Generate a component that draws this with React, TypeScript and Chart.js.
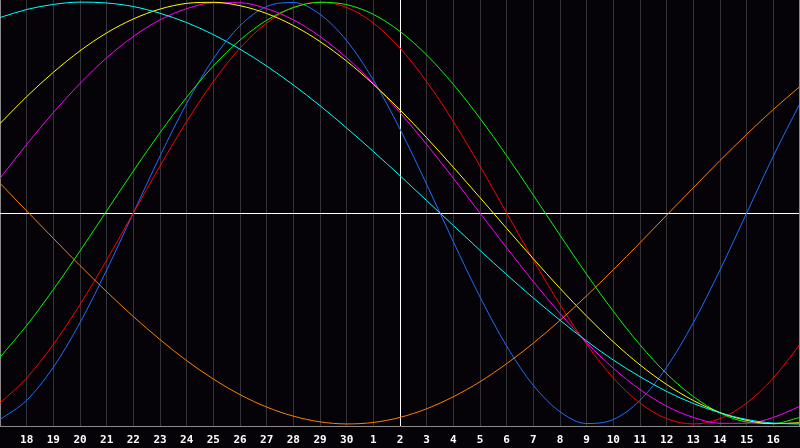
import React, { useEffect, useRef } from 'react';
import { Chart, registerables } from 'chart.js';

Chart.register(...registerables);

const dayLabels = ['17','18','19','20','21','22','23','24','25','26','27','28','29','30','1','2','3','4','5','6','7','8','9','10','11','12','13','14','15','16','17'];
const todayIndex = 15;

const blueSeries = [-97.9,-88.8,-73.1,-52.0,-27.0,0.0,27.0,52.0,73.1,88.8,97.9,99.8,94.2,81.7,63.1,39.8,13.6,-13.6,-39.8,-63.1,-81.7,-94.2,-99.8,-97.9,-88.8,-73.1,-52.0,-27.0,0.0,27.0,52.0];
const redSeries = [-90.1,-78.2,-62.3,-43.4,-22.3,0.0,22.3,43.4,62.3,78.2,90.1,97.5,100,97.5,90.1,78.2,62.3,43.4,22.3,0.0,-22.3,-43.4,-62.3,-78.2,-90.1,-97.5,-100,-97.5,-90.1,-78.2,-62.3];
const greenSeries = [-68.4,-53.3,-36.3,-18.0,1.0,19.9,38.1,54.9,69.7,82.0,91.4,97.4,99.9,98.8,94.2,86.1,74.9,61.0,44.9,27.2,8.5,-10.5,-29.1,-46.6,-62.5,-76.2,-87.0,-94.8,-99.1,-99.8,-96.9];
const magentaSeries = [16.5,32.5,47.6,61.4,73.6,83.7,91.6,96.9,99.7,99.7,96.9,91.6,83.7,73.6,61.4,47.6,32.5,16.5,0.0,-16.5,-32.5,-47.6,-61.4,-73.6,-83.7,-91.6,-96.9,-99.7,-99.7,-96.9,-91.6];
const yellowSeries = [42.4,55.2,66.7,76.9,85.4,92.0,96.7,99.4,99.9,98.3,94.6,88.9,81.3,72.0,61.1,48.9,35.7,21.7,7.3,-7.3,-21.7,-35.7,-48.9,-61.1,-72.0,-81.3,-88.9,-94.6,-98.3,-99.9,-99.4];
const orangeSeries = [14.1,1.0,-12.0,-24.9,-37.3,-49.1,-60.0,-70.0,-78.7,-86.1,-92.0,-96.3,-99.0,-100,-99.3,-96.9,-92.8,-87.1,-80.0,-71.4,-61.7,-50.9,-39.2,-26.9,-14.1,-1.0,12.0,24.9,37.3,49.1,60.0];
const cyanSeries = [92.7,96.5,98.9,100,99.6,97.9,94.7,90.3,84.6,77.7,69.7,60.7,50.9,40.3,29.2,17.7,5.9,-5.9,-17.7,-29.2,-40.3,-50.8,-60.7,-69.7,-77.6,-84.6,-90.3,-94.7,-97.9,-99.6,-100];

const seriesList = [
  { name: 'orange', data: orangeSeries, color: '#ff8000' },
  { name: 'cyan', data: cyanSeries, color: '#00ffff' },
  { name: 'yellow', data: yellowSeries, color: '#ffff00' },
  { name: 'magenta', data: magentaSeries, color: '#ff00ff' },
  { name: 'green', data: greenSeries, color: '#00ff00' },
  { name: 'red', data: redSeries, color: '#ff0000' },
  { name: 'blue', data: blueSeries, color: '#1e6eff' },
];

const rightBorder = {
  id: 'rightBorder',
  afterDraw(chart: any) {
    const { ctx, chartArea } = chart;
    ctx.save();
    ctx.strokeStyle = '#8a8a8a';
    ctx.lineWidth = 1;
    ctx.beginPath();
    ctx.moveTo(Math.round(chartArea.right) - 0.5, chartArea.top);
    ctx.lineTo(Math.round(chartArea.right) - 0.5, chartArea.bottom);
    ctx.stroke();
    ctx.restore();
  },
};

export default function App() {
  const ref = useRef<HTMLCanvasElement | null>(null);
  useEffect(() => {
    if (!ref.current) return;
    const chart = new Chart(ref.current, {
      type: 'line',
      data: {
        labels: dayLabels,
        datasets: seriesList.map((s) => ({
          label: s.name,
          data: s.data,
          borderColor: s.color,
          borderWidth: 1,
          pointRadius: 0,
          fill: false,
          cubicInterpolationMode: 'monotone' as const,
        })),
      },
      options: {
        animation: false,
        responsive: false,
        maintainAspectRatio: false,
        layout: { padding: 0 },
        plugins: { legend: { display: false }, tooltip: { enabled: false } },
        scales: {
          x: {
            type: 'category',
            offset: false,
            grid: {
              drawTicks: true,
              tickLength: 6,
              tickColor: 'rgba(0,0,0,0)',
              color: (ctx: any) =>
                ctx.index === todayIndex ? '#ffffff' : ctx.index === 0 ? '#8a8a8a' : '#333338',
              lineWidth: 1,
            },
            border: { display: true, color: '#8a8a8a', width: 1 },
            ticks: {
              autoSkip: false,
              maxRotation: 0,
              minRotation: 0,
              padding: 0,
              color: '#ffffff',
              font: { family: 'DejaVu Sans Mono', size: 11, weight: 'bold', lineHeight: 1.45 },
              callback: (_v: any, i: number) => (i === 0 || i === dayLabels.length - 1 ? '' : dayLabels[i]),
            },
          },
          y: {
            min: -101,
            max: 101,
            grid: {
              drawTicks: false,
              color: (ctx: any) => (ctx.tick && ctx.tick.value === 0 ? '#ffffff' : 'rgba(0,0,0,0)'),
            },
            border: { display: false },
            ticks: { display: false, stepSize: 101, padding: 0 },
          },
        },
      },
      plugins: [rightBorder],
    });
    return () => chart.destroy();
  }, []);
  return (
    <div style={{ position: 'fixed', left: 0, top: 0, width: 800, height: 448, background: '#050308' }}>
      <canvas ref={ref} width={800} height={448} style={{ display: 'block' }} />
    </div>
  );
}
